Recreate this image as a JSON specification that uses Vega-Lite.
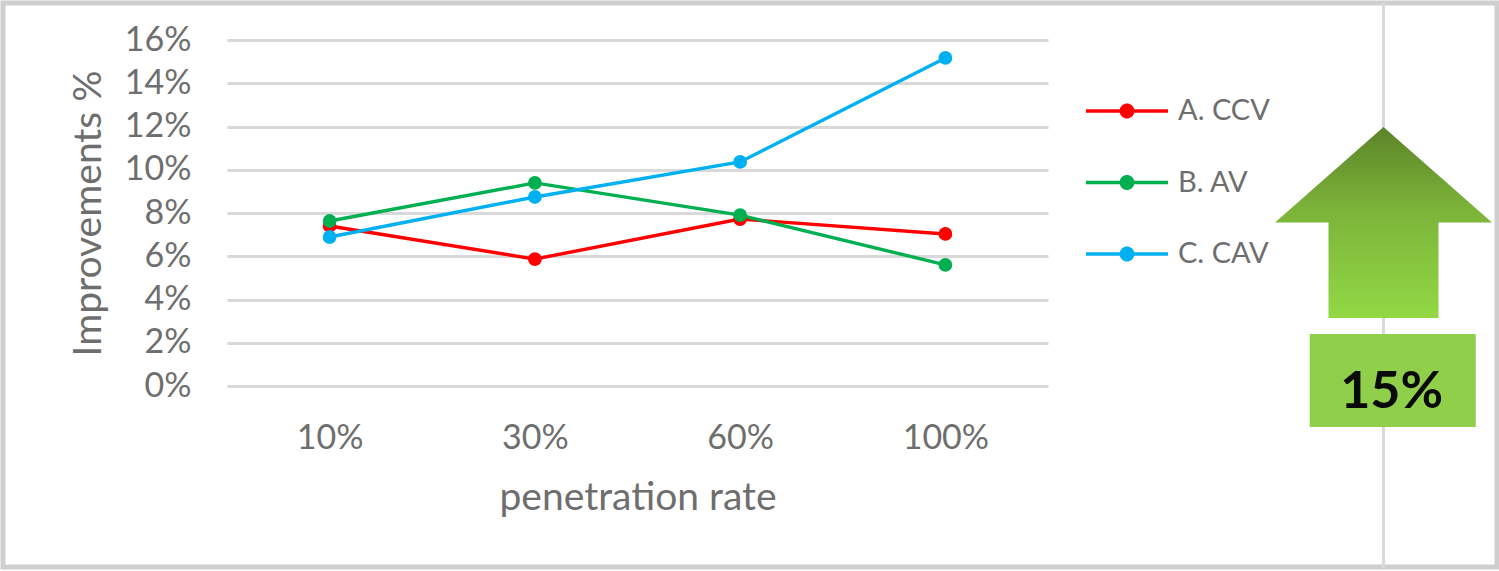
{
"$schema":"https://vega.github.io/schema/vega-lite/v6.json",
"width":821,"height":346,
"autosize":{"type":"none"},
"padding":{"left":227,"top":40,"right":451,"bottom":185},
"background":"white",
"config":{"view":{"stroke":null},"font":"Lato"},
"datasets":{
"series":[
{"rate":"10%","method":"A. CCV","value":0.074},{"rate":"30%","method":"A. CCV","value":0.0587},{"rate":"60%","method":"A. CCV","value":0.0772},{"rate":"100%","method":"A. CCV","value":0.0703},
{"rate":"10%","method":"B. AV","value":0.0763},{"rate":"30%","method":"B. AV","value":0.0939},{"rate":"60%","method":"B. AV","value":0.079},{"rate":"100%","method":"B. AV","value":0.056},
{"rate":"10%","method":"C. CAV","value":0.0689},{"rate":"30%","method":"C. CAV","value":0.0874},{"rate":"60%","method":"C. CAV","value":0.1036},{"rate":"100%","method":"C. CAV","value":0.1517}
]
},
"layer":[
{"data":{"values":[{"a":0,"b":1,"c":0,"d":1}]},
 "mark":{"type":"rect","fill":null,"stroke":"#cfcfcf","strokeWidth":5},
 "encoding":{
  "x":{"field":"a","type":"quantitative","axis":null,"scale":{"domain":[0,1],"range":[-224,1270],"nice":false,"zero":false}},
  "x2":{"field":"b"},
  "y":{"field":"c","type":"quantitative","axis":null,"scale":{"domain":[0,1],"range":[-37,527],"nice":false,"zero":false}},
  "y2":{"field":"d"}}},
{"layer":[
 {"data":{"values":[{"u":0,"t":-0.65,"b":2.31}]},
  "mark":{"type":"rule","stroke":"#d9d9d9","strokeWidth":3},
  "encoding":{"x":{"field":"u","type":"quantitative","axis":null,"scale":{"domain":[-1,1],"range":[1048,1265],"nice":false,"zero":false}},"y":{"field":"t","type":"quantitative","axis":null,"scale":{"domain":[0,1],"range":[87,278],"nice":false,"zero":false}},"y2":{"field":"b"}}},
 {"data":{"values":[{"u":0,"m":0.5}]},
  "mark":{"type":"point","filled":true,"opacity":1,"fillOpacity":1,"strokeWidth":0,"size":47089,"shape":"M-1,0L0,-0.88L1,0H0.507V0.88H-0.507V0H-1Z","fill":{"gradient":"linear","x1":0,"y1":0,"x2":0,"y2":1,"stops":[{"offset":0,"color":"#5c8428"},{"offset":0.45,"color":"#7db53a"},{"offset":1,"color":"#92d845"}]}},
  "encoding":{"x":{"field":"u","type":"quantitative","axis":null,"scale":{"domain":[-1,1],"range":[1048,1265],"nice":false,"zero":false}},"y":{"field":"m","type":"quantitative","axis":null,"scale":{"domain":[0,1],"range":[87,278],"nice":false,"zero":false}}}},
 {"data":{"values":[{"l":-0.68,"r":0.85,"t":1.084,"b":1.571,"label":"15%","c":0.075,"m":1.385}]},
  "layer":[
  {"mark":{"type":"rect","color":"#8fcf4a"},
   "encoding":{"x":{"field":"l","type":"quantitative","axis":null,"scale":{"domain":[-1,1],"range":[1048,1265],"nice":false,"zero":false}},"x2":{"field":"r"},"y":{"field":"t","type":"quantitative","axis":null,"scale":{"domain":[0,1],"range":[87,278],"nice":false,"zero":false}},"y2":{"field":"b"}}},
  {"mark":{"type":"text","font":"Lato","fontWeight":"bold","fontSize":52,"color":"#0a0a0a","baseline":"middle"},
   "encoding":{"x":{"field":"c","type":"quantitative","axis":null,"scale":{"domain":[-1,1],"range":[1048,1265],"nice":false,"zero":false}},"y":{"field":"m","type":"quantitative","axis":null,"scale":{"domain":[0,1],"range":[87,278],"nice":false,"zero":false}},"text":{"field":"label"}}}
  ]}
 ]
},
{"data":{"name":"series"},
 "encoding":{
  "x":{"field":"rate","type":"ordinal","sort":["10%","30%","60%","100%"],"scale":{"type":"point","padding":0.5},
   "axis":{"orient":"bottom","title":"penetration rate","labelAngle":0,"labelFontSize":34,"labelColor":"#6e6e6e","titleFontSize":39,"titleFontWeight":"normal","titleColor":"#6e6e6e","ticks":false,"domain":false,"labelPadding":35,"titlePadding":23,"grid":false}},
  "y":{"field":"value","type":"quantitative","scale":{"domain":[0,0.16],"nice":false},
   "axis":{"orient":"left","title":"Improvements %","format":".0%","values":[0,0.02,0.04,0.06,0.08,0.1,0.12,0.14,0.16],"labelFontSize":34,"labelColor":"#6e6e6e","titleFontSize":39,"titleFontWeight":"normal","titleColor":"#6e6e6e","ticks":false,"domain":false,"labelPadding":36,"titlePadding":16,"grid":true,"gridColor":"#d9d9d9","gridWidth":3}},
  "color":{"field":"method","type":"nominal","scale":{"domain":["A. CCV","B. AV","C. CAV"],"range":["#ff0000","#00b050","#00b0f0"]},
   "legend":{"title":null,"orient":"none","legendX":859,"legendY":30,"symbolType":"M-1,-0.04H-0.1755A0.18,0.18,0,0,1,0.1755,-0.04H1V0.04H0.1755A0.18,0.18,0,0,1,-0.1755,0.04H-1Z","symbolSize":6724,"symbolOpacity":1,"symbolStrokeWidth":0,"labelFontSize":29,"labelColor":"#6e6e6e","labelOffset":10,"rowPadding":15.5,"labelLimit":200}}
 },
 "layer":[
 {"mark":{"type":"line","strokeWidth":3.4}},
 {"mark":{"type":"point","filled":true,"opacity":1,"size":190}}
 ]}
],
"resolve":{"scale":{"x":"independent","y":"independent"},"axis":{"x":"independent","y":"independent"}}
}
